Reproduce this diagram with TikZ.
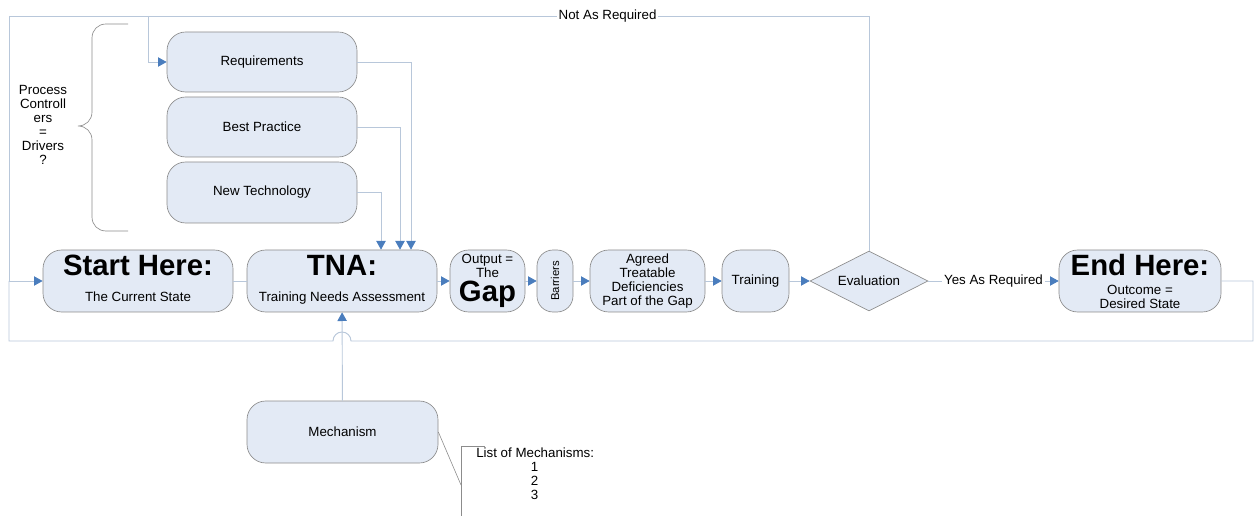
\documentclass[tikz,border=0pt]{standalone}
\usepackage{fontspec}
\setmainfont{Liberation Sans}
\usetikzlibrary{arrows.meta,shapes.geometric,calc}

\definecolor{boxfill}{HTML}{E3EAF5}
\definecolor{boxline}{HTML}{8C8C8C}
\definecolor{wirecol}{HTML}{B8C7DA}
\definecolor{tipblue}{HTML}{4A7DBD}

\newcommand\hdtext{\fontsize{22}{22}\selectfont\bfseries}

\tikzset{
  stepbox/.style={draw=boxline, fill=boxfill, line width=0.5pt,
    rounded corners=14pt, inner sep=0pt, align=center,
    minimum width=142.5pt, minimum height=46.5pt},
  wire/.style={draw=wirecol, line width=0.7pt},
  flow/.style={wire, -{Triangle[length=6.5pt,width=7pt,color=tipblue]}},
  annot/.style={draw=boxline, line width=0.45pt},
  lbl/.style={fill=white, inner sep=1.5pt},
}

\begin{document}
\begin{tikzpicture}[x=0.75pt, y=-0.75pt, font=\fontsize{10}{10.5}\selectfont]
\useasboundingbox (0,0) rectangle (1255,516);

% drivers
\node[stepbox, minimum height=45pt] (req) at (262,62) {Requirements};
\node[stepbox, minimum height=45pt] (best) at (262,127) {Best Practice};
\node[stepbox, minimum height=45.75pt] (newtech) at (262,192.5) {New Technology};

\node[align=center] (drivers) at (43,125) {Process\\Controll\\ers\\=\\Drivers\\?};
\draw[boxline, line width=0.5pt]
  (128,24) -- (106,24) .. controls (98,24) and (92,30) .. (92,38)
  -- (92,112) .. controls (92,120) and (86,126) .. (78,126)
  .. controls (86,126) and (92,132) .. (92,140)
  -- (92,217) .. controls (92,225) and (98,231) .. (106,231) -- (128,231);

% main process chain
\node[stepbox] (start) at (138,281)
  {{\hdtext Start Here:}\\[9.5pt]The Current State\rule[-4pt]{0pt}{0pt}};
\node[stepbox] (tna) at (342,281)
  {{\hdtext TNA:}\\[9.5pt]Training Needs Assessment\rule[-4pt]{0pt}{0pt}};
\node[stepbox, minimum width=56.25pt] (gap) at (487.5,281) {Output =\\The\\[2pt]{\hdtext Gap}};
\node[stepbox, minimum width=27pt, rounded corners=12pt] (barr) at (555,281)
  {\rotatebox{90}{\fontsize{8.5}{10}\selectfont Barriers}};
\node[stepbox, minimum width=86.25pt] (agreed) at (647.5,281)
  {Agreed\\Treatable\\Deficiencies\\Part of the Gap};
\node[stepbox, minimum width=50.25pt] (train) at (755.5,281) {Training};
\node[diamond, draw=boxline, fill=boxfill, line width=0.5pt, aspect=2, inner sep=0pt,
  minimum width=88.5pt, minimum height=45pt] (eval) at (869,281) {Evaluation};
\node[stepbox, minimum width=121.5pt] (end) at (1140,281)
  {{\hdtext End Here:}\\[3.75pt]Outcome =\\Desired State};
\node[stepbox, minimum width=143.25pt] (mech) at (342.5,432) {Mechanism};

% flow connectors
\draw[wire] (start) -- (tna);
\draw[flow] (tna) -- (gap);
\draw[flow] (gap) -- (barr);
\draw[flow] (barr) -- (agreed);
\draw[flow] (agreed) -- (train);
\draw[flow] (train) -- (eval);
\draw[flow] (eval) -- node[lbl] {Yes As Required} (end);

\draw[flow] (req.east) -| ($(tna.north)+(69,0)$);
\draw[flow] (best.east) -| ($(tna.north)+(58,0)$);
\draw[flow] (newtech.east) -| ($(tna.north)+(39,0)$);
\draw[flow] (mech) -- (tna);

% feedback loop from evaluation
\coordinate (tl) at (9,16);
\coordinate (br) at (148,16);
\draw[wire] (eval.north) |- node[lbl, pos=0.652] {Not As Required} (tl);
\draw[flow] (tl) |- (start.west);
\draw[flow] (br) |- (req.west);

% return loop from the end state, hopping over the mechanism line
\coordinate (rb) at (1253,341);
\coordinate (hopR) at (351,341);
\coordinate (lb) at (9,341);
\draw[wire] (end.east) -| (rb) -- (hopR)
  arc[start angle=0, end angle=180, radius=6.75pt] -- (lb) -- (9,281);

% annotation
\coordinate (ann) at (461,485);
\coordinate (annT) at (461,446);
\coordinate (annR) at (485,446);
\coordinate (annB) at (461,516);
\draw[annot] (mech.east) -- (ann);
\draw[annot] (annR) -- (annT) -- (annB);
\node[anchor=north west, align=left, inner sep=0pt] (list) at (476,448)
  {List of Mechanisms:\\\hspace*{41pt}1\\\hspace*{41pt}2\\\hspace*{41pt}3};
\end{tikzpicture}
\end{document}
